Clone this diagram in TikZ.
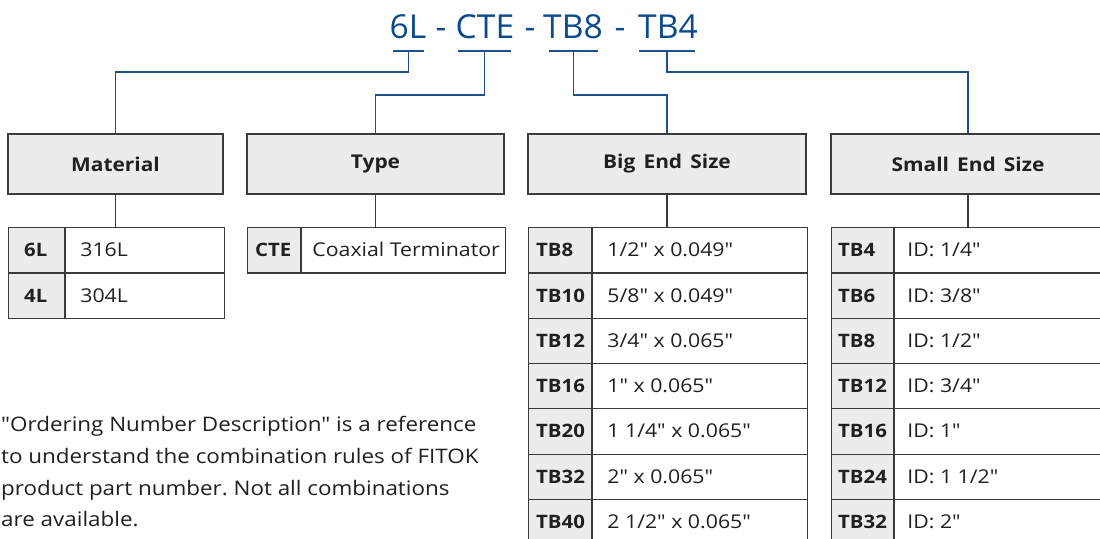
\documentclass[tikz,border=0pt]{standalone}
\usepackage{fontspec}
\newfontfamily\bodyf{Open Sans}[FakeStretch=1.12]
\newfontfamily\headf{Open Sans}[FakeStretch=1.02]
\newfontfamily\titlef{Open Sans}[FakeStretch=1.1]
\newfontfamily\boxf{Open Sans}[FakeStretch=1.1, WordSpace=1.5]
\definecolor{hblue}{HTML}{0B4A8C}
\definecolor{lblue}{HTML}{1F4F8A}
\definecolor{bord}{HTML}{3A3A3A}
\definecolor{cellgray}{HTML}{ECECEE}
\definecolor{txt}{HTML}{231F20}
\tikzset{
  blueline/.style={draw=lblue, line width=1.8pt},
  conn/.style={draw=bord, line width=1.1pt},
  hd/.style={anchor=base, inner sep=0pt, text=hblue, font=\headf\fontsize{33}{38}\selectfont},
  hdr/.style={draw=bord, fill=cellgray, line width=1.2pt, minimum height=60pt, inner sep=0pt, text=txt, font=\boxf\fontsize{19}{22}\selectfont\bfseries},
  cell/.style={draw=bord, line width=1.2pt, minimum height=45.3pt, inner sep=0pt},
  codecell/.style={cell, fill=cellgray},
  valcell/.style={cell, fill=white},
  ctext/.style={anchor=west, inner sep=0pt, text height=13pt, text depth=0pt, text=txt, font=\titlef\fontsize{18.5}{20}\selectfont\bfseries},
  vtext/.style={anchor=west, inner sep=0pt, text height=13pt, text depth=0pt, text=txt, font=\bodyf\fontsize{19}{21}\selectfont},
  para/.style={anchor=base west, inner sep=0pt, text=txt, font=\bodyf\fontsize{20}{24}\selectfont\frenchspacing}
}
\newcommand\tabrow[9]{%
  \node[codecell, minimum width=#4pt, anchor=north west] (#1c) at (#2,#3) {};
  \node[valcell, minimum width=#5pt, anchor=north west] (#1v) at (#1c.north east) {};
  \node[ctext] (#1ct) at ([xshift=#6pt]#1c.west) {#8};
  \node[vtext] (#1vt) at ([xshift=#7pt]#1v.west) {#9};
}
\begin{document}
\begin{tikzpicture}[x=1pt,y=-1pt]
\useasboundingbox (0,0) rectangle (1100,538);
\clip (0,0) rectangle (1100,538);
\fill[white] (0,0) rectangle (1100,538);

% ordering code
\node[hd] (h1) at (408,38) {6L};
\node[hd] (d1) at (441,38) {-};
\node[hd] (h2) at (485,38) {CTE};
\node[hd] (d2) at (530,38) {-};
\node[hd] (h3) at (573,38) {TB8};
\node[hd] (d3) at (620,38) {-};
\node[hd] (h4) at (668,38) {TB4};

\coordinate (k1) at (408.5,51);
\coordinate (k2) at (484.5,51);
\coordinate (k3) at (573.5,51);
\coordinate (k4) at (667,51);

% header boxes
\node[hdr, minimum width=215pt] (mat) at (115.5,164) {Material};
\node[hdr, minimum width=257pt] (typ) at (375.5,164) {Type};
\node[hdr, minimum width=278pt] (big) at (667,164) {Big End Size};
\node[hdr, minimum width=274pt] (sml) at (968,164) {Small End Size};

% blue connectors
\draw[blueline] ([xshift=-15.5pt]k1) -- ([xshift=15.5pt]k1);
\draw[blueline] ([xshift=-26.5pt]k2) -- ([xshift=26.5pt]k2);
\draw[blueline] ([xshift=-24.5pt]k3) -- ([xshift=24.5pt]k3);
\draw[blueline] ([xshift=-28pt]k4) -- ([xshift=28pt]k4);
\draw[blueline] (k1) -- ++(0,21) -| (mat.north);
\draw[blueline] (k2) -- ++(0,44) -| (typ.north);
\draw[blueline] (k3) -- ++(0,44) -| (big.north);
\draw[blueline] (k4) -- ++(0,21) -| (sml.north);

% Material table
\tabrow{m1}{8}{227}{56}{159}{16}{15}{6L}{316L}
\tabrow{m2}{8}{272.3}{56}{159}{16}{15}{4L}{304L}
% Type table
\tabrow{t1}{247}{227}{53}{204}{8}{11}{CTE}{Coaxial Terminator}
% Big end table
\tabrow{b1}{528}{227}{63}{215}{8}{15}{TB8}{1/2" x 0.049"}
\tabrow{b2}{528}{272.3}{63}{215}{8}{15}{TB10}{5/8" x 0.049"}
\tabrow{b3}{528}{317.6}{63}{215}{8}{15}{TB12}{3/4" x 0.065"}
\tabrow{b4}{528}{362.9}{63}{215}{8}{15}{TB16}{1" x 0.065"}
\tabrow{b5}{528}{408.2}{63}{215}{8}{15}{TB20}{1 1/4" x 0.065"}
\tabrow{b6}{528}{453.5}{63}{215}{8}{15}{TB32}{2" x 0.065"}
\tabrow{b7}{528}{498.8}{63}{215}{8}{15}{TB40}{2 1/2" x 0.065"}
% Small end table
\tabrow{s1}{831}{227}{62}{212}{7}{13}{TB4}{ID: 1/4"}
\tabrow{s2}{831}{272.3}{62}{212}{7}{13}{TB6}{ID: 3/8"}
\tabrow{s3}{831}{317.6}{62}{212}{7}{13}{TB8}{ID: 1/2"}
\tabrow{s4}{831}{362.9}{62}{212}{7}{13}{TB12}{ID: 3/4"}
\tabrow{s5}{831}{408.2}{62}{212}{7}{13}{TB16}{ID: 1"}
\tabrow{s6}{831}{453.5}{62}{212}{7}{13}{TB24}{ID: 1 1/2"}
\tabrow{s7}{831}{498.8}{62}{212}{7}{13}{TB32}{ID: 2"}

% gray connectors
\draw[conn] (mat.south) -- (mat.south |- m1c.north);
\draw[conn] (typ.south) -- (typ.south |- t1c.north);
\draw[conn] (big.south) -- (big.south |- b1c.north);
\draw[conn] (sml.south) -- (sml.south |- s1c.north);

% note
\node[para] (p1) at (1,431) {"Ordering Number Description" is a reference};
\node[para] (p2) at (1,463) {to understand the combination rules of FITOK};
\node[para] (p3) at (1,495) {product part number. Not all combinations};
\node[para] (p4) at (1,526) {are available.};
\end{tikzpicture}
\end{document}
